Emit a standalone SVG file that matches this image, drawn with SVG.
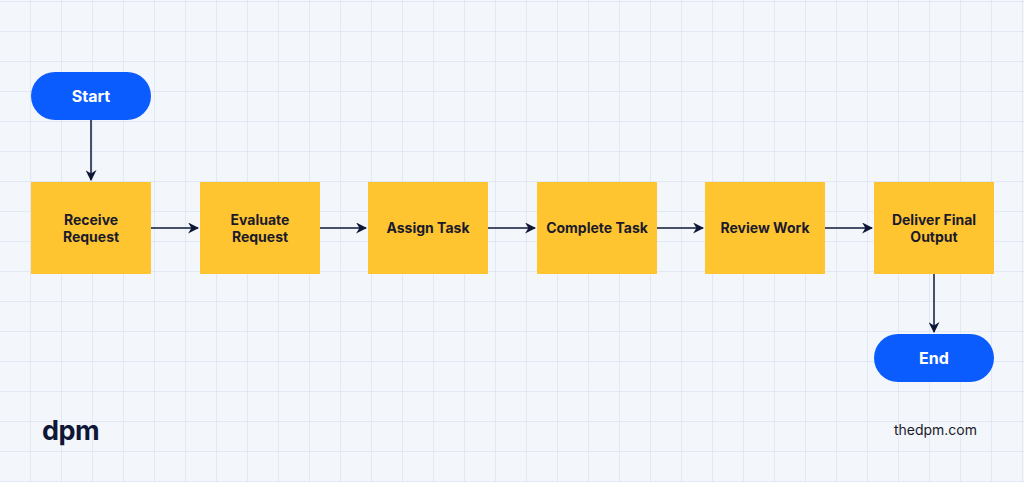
<svg xmlns="http://www.w3.org/2000/svg" width="1024" height="482" viewBox="0 0 1024 482">
<defs>
<pattern id="grid" x="0" y="2" width="31" height="30" patternUnits="userSpaceOnUse">
<path d="M31 0V30M0 30H31" fill="none" stroke="#d3dbf1" stroke-width="1"/>
</pattern>
<marker id="ah" viewBox="0 0 10 10" refX="9" refY="5" markerWidth="11" markerHeight="11" markerUnits="userSpaceOnUse" orient="auto"><path d="M0 0L10 5L0 10L3 5Z" fill="#0f1737"/></marker>
</defs>
<style>
.box{fill:#ffc531}
.pill{fill:#0b5cff}
.t{font-family:Inter,"Liberation Sans",sans-serif;font-weight:700;font-size:14px;fill:#1a1a2a;text-anchor:middle}
.w{fill:#fff;font-size:16px}
.c{stroke:#0f1737;stroke-width:1.5;fill:none;marker-end:url(#ah)}
</style>
<rect width="1024" height="482" fill="#f3f6fa"/>
<rect width="1024" height="482" fill="url(#grid)"/>
<g id="connectors">
<path class="c" d="M91 120V180"/>
<path class="c" d="M151 228H198"/>
<path class="c" d="M320 228H366"/>
<path class="c" d="M488 228H535"/>
<path class="c" d="M657 228H703"/>
<path class="c" d="M825 228H872"/>
<path class="c" d="M934 274V332"/>
</g>
<g id="start"><rect class="pill" x="31" y="72" width="120" height="48" rx="24"/><text class="t w" x="91" y="102">Start</text></g>
<g id="receive"><rect class="box" x="31" y="182" width="120" height="92"/><text class="t" x="91" y="225">Receive</text><text class="t" x="91" y="242">Request</text></g>
<g id="evaluate"><rect class="box" x="200" y="182" width="120" height="92"/><text class="t" x="260" y="225">Evaluate</text><text class="t" x="260" y="242">Request</text></g>
<g id="assign"><rect class="box" x="368" y="182" width="120" height="92"/><text class="t" x="428" y="233">Assign Task</text></g>
<g id="complete"><rect class="box" x="537" y="182" width="120" height="92"/><text class="t" x="597" y="233">Complete Task</text></g>
<g id="review"><rect class="box" x="705" y="182" width="120" height="92"/><text class="t" x="765" y="233">Review Work</text></g>
<g id="deliver"><rect class="box" x="874" y="182" width="120" height="92"/><text class="t" x="934" y="225">Deliver Final</text><text class="t" x="934" y="242">Output</text></g>
<g id="end"><rect class="pill" x="874" y="334" width="120" height="48" rx="24"/><text class="t w" x="934" y="364">End</text></g>
<text x="42" y="440" font-family="Inter,'Liberation Sans',sans-serif" font-weight="700" font-size="27" fill="#0f1737" letter-spacing="-0.5">dpm</text>
<text x="977" y="435" text-anchor="end" font-family="Inter,'Liberation Sans',sans-serif" font-size="14" fill="#1a1a2a">thedpm.com</text>
</svg>
